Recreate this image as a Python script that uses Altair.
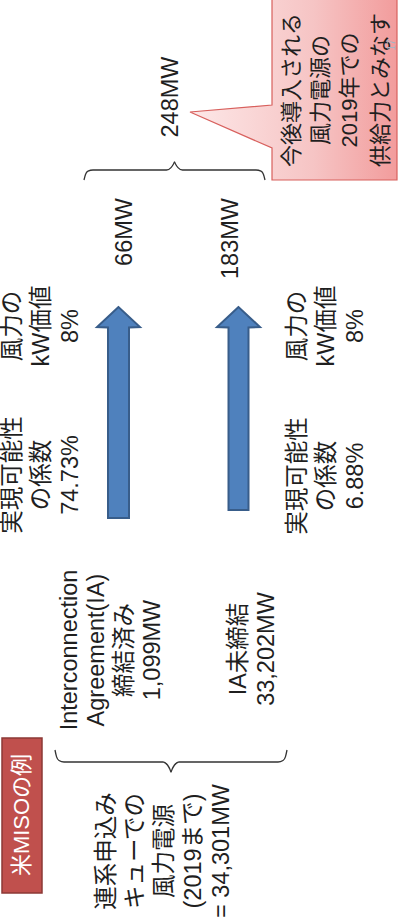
import altair as alt
import pandas as pd

# ---------------- chart values ----------------
title_label = "米MISOの例"
queue_lines = ["連系申込み", "キューでの", "風力電源", "(2019まで)", "= 34,301MW"]
signed_lines = ["Interconnection", "Agreement(IA)", "締結済み", "1,099MW"]
unsigned_lines = ["IA未締結", "33,202MW"]
feasibility_head = ["実現可能性", "の係数"]
feasibility_values = ["74.73%", "6.88%"]
kw_head = ["風力の", "kW価値"]
kw_values = ["8%", "8%"]
contrib_values = ["66MW", "183MW"]
total_value = "248MW"
callout_lines = ["今後導入される", "風力電源の", "2019年での", "供給力とみなす"]
page_label = "17"

# ---------------- layout (pixel space of the slide) ----------------
W, H = 399, 919
FONT = "Liberation Sans, Noto Sans CJK JP"
TXT = "#1f1f1f"

rows = []
def block(lines, xs, y, size=23.5, color=TXT, grp="c"):
    for t, x in zip(lines, xs):
        rows.append(dict(text=t, x=x, y=y, size=size, color=color, grp=grp))

block(queue_lines, [107, 136, 165, 194, 222], 851)
block(signed_lines, [70, 97, 125, 153], 650)
block(unsigned_lines, [239, 267], 649)
block(feasibility_head + [feasibility_values[0]], [13, 42, 71], 475)
block(feasibility_head + [feasibility_values[1]], [298, 327, 356], 476)
block(kw_head + [kw_values[0]], [13, 42, 71], 326)
block(kw_head + [kw_values[1]], [298, 327, 356], 326)
block([total_value], [171], 97)
block(callout_lines, [292, 321, 350, 381], 90, size=22)
block([title_label], [22], 815, size=22, color="white")
block([page_label], [392], 45, size=10, color="#a6b4c4")
block(contrib_values, [125, 231], 198, grp="r")
texts = pd.DataFrame(rows)

# arrows: tip, head base, head half-width, shaft half-width, bottom
arrow_rows = []
for k, (cx, tip, base, hw, sw, bottom) in enumerate([(118.5, 307, 327, 21.5, 10.5, 518),
                                                      (238.5, 307, 327, 21.5, 10, 510)]):
    for y, half in [(tip, 0), (base, hw), (base + 0.5, sw), (bottom, sw)]:
        arrow_rows.append(dict(arrow=k, y=y, x=cx - half, x2=cx + half))
arrows = pd.DataFrame(arrow_rows)

# callout polygon (box with a pointer toward 248MW)
callout = pd.DataFrame(dict(
    y=[-5, 105, 112, 148, 180],
    x=[272, 272, 190, 272, 272],
    x2=[397, 397, 397, 397, 397],
))

# curly braces
def brace(bid, a, b, line, end, tip):
    m = (a + b) / 2
    pts = [(a, end), (a + 1.5, line + (end - line) * 0.45), (a + 4, line + (end - line) * 0.12),
           (a + 9, line), (m - 8, line), (m - 3.5, line + (tip - line) * 0.3),
           (m - 1, line + (tip - line) * 0.75), (m, tip), (m + 1, line + (tip - line) * 0.75),
           (m + 3.5, line + (tip - line) * 0.3), (m + 8, line), (b - 9, line),
           (b - 4, line + (end - line) * 0.12), (b - 1.5, line + (end - line) * 0.45), (b, end)]
    return [dict(brace=bid, i=i, x=x, y=y) for i, (x, y) in enumerate(pts)]

braces = pd.DataFrame(brace(0, 55, 287, 762, 750, 772) + brace(1, 84, 265, 170, 180, 162))

box = pd.DataFrame(dict(x=[2], x2=[42], y=[738], y2=[893]))

xs = alt.Scale(domain=[0, W], range=[0, W], nice=False, zero=False)
ys = alt.Scale(domain=[0, H], range=[0, H], nice=False, zero=False)

grad = alt.Gradient(gradient="linear",
                    stops=[alt.GradientStop(color="#fde8e8", offset=0),
                           alt.GradientStop(color="#f6c4c4", offset=0.6),
                           alt.GradientStop(color="#f29c9c", offset=1)],
                    x1=0, x2=1, y1=0, y2=0)

callout_layer = alt.Chart(callout).mark_area(
    orient="horizontal", fill=grad, stroke="#d8605d", strokeWidth=1.2
).encode(
    y=alt.Y("y:Q", scale=ys, axis=None),
    x=alt.X("x:Q", scale=xs, axis=None, stack=None),
    x2="x2:Q",
)

box_layer = alt.Chart(box).mark_rect(fill="#c0504d", stroke="#8c3836", strokeWidth=1.5).encode(
    x=alt.X("x:Q", scale=xs, axis=None), x2="x2:Q",
    y=alt.Y("y:Q", scale=ys, axis=None), y2="y2:Q",
)

arrow_layer = alt.Chart(arrows).mark_area(
    orient="horizontal", fill="#4f81bd", stroke="#385d8a", strokeWidth=2
).encode(
    y=alt.Y("y:Q", scale=ys, axis=None),
    x=alt.X("x:Q", scale=xs, axis=None, stack=None),
    x2="x2:Q",
    detail="arrow:N",
)

brace_layer = alt.Chart(braces).mark_line(
    color="#333333", strokeWidth=1.3, interpolate="monotone"
).encode(
    x=alt.X("x:Q", scale=xs, axis=None),
    y=alt.Y("y:Q", scale=ys, axis=None),
    detail="brace:N",
    order="i:Q",
)

def text_layer(grp, align):
    return alt.Chart(texts[texts.grp == grp]).mark_text(
        angle=270, align=align, baseline="middle", font=FONT
    ).encode(
        x=alt.X("x:Q", scale=xs, axis=None),
        y=alt.Y("y:Q", scale=ys, axis=None),
        text="text:N",
        color=alt.Color("color:N", scale=None),
        size=alt.Size("size:Q", scale=None),
    )

chart = alt.layer(
    callout_layer, box_layer, arrow_layer, brace_layer,
    text_layer("c", "center"), text_layer("r", "right"),
).properties(
    width=W, height=H, padding=0, autosize=alt.AutoSizeParams(type="none"),
    background="white",
).configure_view(stroke=None)

chart.save("out.html", embed_options={"renderer": "svg", "actions": False})
